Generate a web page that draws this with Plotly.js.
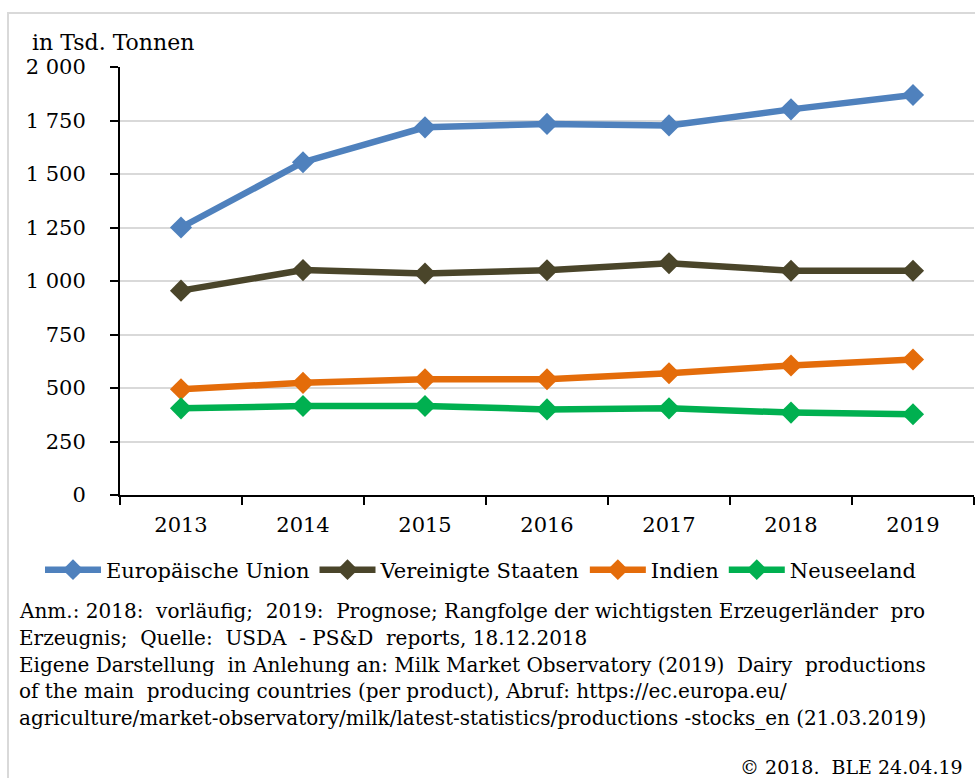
<!DOCTYPE html>
<html>
<head>
<meta charset="utf-8">
<script src="https://cdn.plot.ly/plotly-3.0.1.min.js"></script>
<style>
html,body{margin:0;padding:0;background:#fff;}
</style>
</head>
<body>
<div id="chart" style="width:975px;height:778px;"></div>
<script>
const years = ["2013", "2014", "2015", "2016", "2017", "2018", "2019"];
const seriesNames = ["Europäische Union", "Vereinigte Staaten", "Indien", "Neuseeland"];
const euValues = [1250, 1555, 1718, 1734, 1727, 1802, 1869];
const usValues = [955, 1051, 1035, 1050, 1083, 1048, 1048];
const indiaValues = [494, 524, 541, 541, 569, 605, 633];
const nzValues = [405, 416, 416, 400, 405, 385, 377];
const yTickVals = [0, 250, 500, 750, 1000, 1250, 1500, 1750, 2000];
const yAxisLabel = "in Tsd. Tonnen";
const noteLines = [
  "Anm.: 2018:  vorläufig;  2019:  Prognose; Rangfolge der wichtigsten Erzeugerländer  pro",
  "Erzeugnis;  Quelle:  USDA  - PS&D  reports, 18.12.2018",
  "Eigene Darstellung  in Anlehung an: Milk Market Observatory (2019)  Dairy  productions",
  "of the main  producing countries (per product), Abruf: https://ec.europa.eu/",
  "agriculture/market-observatory/milk/latest-statistics/productions -stocks_en (21.03.2019)"
];
const copyrightText = "© 2018.  BLE 24.04.19";

const colors = ["#4f81bd", "#4a452a", "#e46c0a", "#00b050"];
const allValues = [euValues, usValues, indiaValues, nzValues];

const W = 975, H = 778;
const M = {l: 120, r: 1, t: 67, b: 283};
const plotW = W - M.l - M.r, plotH = H - M.t - M.b;
const px = x => (x - M.l) / plotW;
const py = y => (H - M.b - y) / plotH;

const FONT = "DejaVu Serif, serif";

const traces = allValues.map((vals, i) => ({
  type: "scatter",
  mode: "lines+markers",
  x: years,
  y: vals,
  name: seriesNames[i],
  line: {color: colors[i], width: 6.5},
  marker: {symbol: "diamond", size: 17, color: colors[i]},
  cliponaxis: false
}));

const annotations = [
  {text: yAxisLabel, xref: "paper", yref: "paper", x: px(30), y: py(42),
   xanchor: "left", yanchor: "middle", showarrow: false,
   font: {family: FONT, size: 22, color: "#000"}}
];
const noteY = [611, 638, 665, 691, 718];
noteLines.forEach((t, i) => annotations.push({
  text: t, xref: "paper", yref: "paper", x: px(17), y: py(noteY[i]),
  xanchor: "left", yanchor: "middle", showarrow: false,
  font: {family: FONT, size: 20, color: "#000"}
}));
annotations.push({
  text: copyrightText, xref: "paper", yref: "paper", x: px(738), y: py(767),
  xanchor: "left", yanchor: "middle", showarrow: false,
  font: {family: FONT, size: 19, color: "#000"}
});

const layout = {
  width: W, height: H,
  margin: M,
  paper_bgcolor: "#fff",
  plot_bgcolor: "#fff",
  separators: ", ",
  font: {family: FONT, size: 21, color: "#000"},
  showlegend: true,
  legend: {
    orientation: "h",
    x: px(40), y: py(570), xanchor: "left", yanchor: "middle",
    font: {family: FONT, size: 21, color: "#000"},
    itemwidth: 56,
    tracegroupgap: 0,
    bgcolor: "rgba(0,0,0,0)"
  },
  xaxis: {
    type: "category",
    range: [-0.5, 6.5],
    showgrid: false,
    showline: true, linecolor: "#000", linewidth: 2,
    ticks: "outside", tickson: "boundaries", ticklen: 8, tickwidth: 2, tickcolor: "#000",
    tickfont: {family: FONT, size: 21, color: "#000"},
    ticklabelstandoff: 10,
    zeroline: false,
    fixedrange: true
  },
  yaxis: {
    range: [0, 2000],
    tickvals: yTickVals,
    tickformat: ",d",
    showgrid: true, gridcolor: "#d9d9d9", gridwidth: 2,
    showline: true, linecolor: "#000", linewidth: 2,
    ticks: "outside", ticklen: 8, tickwidth: 2, tickcolor: "#000",
    tickfont: {family: FONT, size: 21, color: "#000"},
    ticklabelstandoff: 20,
    zeroline: false,
    fixedrange: true
  },
  shapes: [
    {type: "rect", xref: "paper", yref: "paper",
     x0: px(8), x1: px(1000), y0: py(800), y1: py(13),
     line: {color: "#d9d9d9", width: 2}, fillcolor: "rgba(0,0,0,0)", layer: "below"}
  ],
  annotations: annotations
};

Plotly.newPlot("chart", traces, layout, {displayModeBar: false, staticPlot: true});
</script>
</body>
</html>
